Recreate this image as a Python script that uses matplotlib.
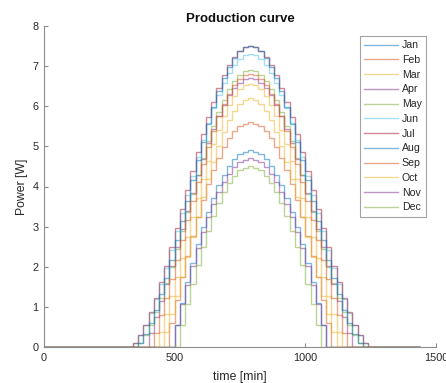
import numpy as np
import matplotlib
matplotlib.use("Agg")
import matplotlib.pyplot as plt

# ---------------- data ----------------
months = ["Jan", "Feb", "Mar", "Apr", "May", "Jun",
          "Jul", "Aug", "Sep", "Oct", "Nov", "Dec"]

# 20-minute bins over one day (bin edges in minutes)
time_edges = np.arange(0, 1441, 20)

jan = [0,0,0,0,0, 0,0,0,0,0, 0,0,0,0,0, 0,0,0,0,0, 0,0,0,0,0,
       0.56,1.10,1.62,2.10,2.56,2.99,3.37,3.72,4.03,4.29,4.51,4.68,4.80,4.87,
       4.90,
       4.87,4.80,4.68,4.51,4.29,4.03,3.72,3.37,2.99,2.56,2.10,1.62,1.10,0.56,
       0,0,0,0,0, 0,0,0,0,0, 0,0,0,0,0, 0,0,0]
feb = [0,0,0,0,0, 0,0,0,0,0, 0,0,0,0,0, 0,0,0,0,0, 0,0,0,0,
       0.60,1.18,1.74,2.27,2.77,3.24,3.67,4.06,4.41,4.72,4.98,5.21,5.38,5.50,5.57,
       5.60,
       5.57,5.50,5.38,5.21,4.98,4.72,4.41,4.06,3.67,3.24,2.77,2.27,1.74,1.18,0.60,
       0,0,0,0,0, 0,0,0,0,0, 0,0,0,0,0, 0,0]
mar = [0,0,0,0,0, 0,0,0,0,0, 0,0,0,0,0, 0,0,0,0,0, 0,0,
       0.37,0.81,1.26,1.74,2.23,2.73,3.23,3.72,4.19,4.63,5.05,5.42,5.75,6.03,6.26,6.42,6.52,
       6.55,
       6.52,6.42,6.26,6.03,5.75,5.42,5.05,4.63,4.19,3.72,3.23,2.73,2.23,1.74,1.26,0.81,0.37,
       0,0,0,0,0, 0,0,0,0,0, 0,0,0,0,0]
apr = [0,0,0,0,0, 0,0,0,0,0, 0,0,0,0,0, 0,0,0,0,0,
       0.34,0.74,1.14,1.58,2.03,2.49,2.95,3.40,3.85,4.28,4.69,5.09,5.44,5.76,6.03,6.27,6.46,6.59,6.67,
       6.70,
       6.67,6.59,6.46,6.27,6.03,5.76,5.44,5.09,4.69,4.28,3.85,3.40,2.95,2.49,2.03,1.58,1.14,0.74,0.34,
       0,0,0,0,0, 0,0,0,0,0, 0,0,0]
may = [0,0,0,0,0, 0,0,0,0,0, 0,0,0,0,0, 0,0,0,
       0.10,0.30,0.55,0.86,1.21,1.59,2.00,2.45,2.90,3.36,3.82,4.28,4.71,5.13,5.51,5.86,6.16,6.42,6.62,6.78,6.87,
       6.90,
       6.87,6.78,6.62,6.42,6.16,5.86,5.51,5.13,4.71,4.28,3.82,3.36,2.90,2.45,2.00,1.59,1.21,0.86,0.55,0.30,0.10,
       0,0,0,0,0, 0,0,0,0,0, 0]
jun = [0,0,0,0,0, 0,0,0,0,0, 0,0,0,0,0, 0,0,
       0.11,0.30,0.55,0.85,1.19,1.57,1.98,2.42,2.88,3.34,3.80,4.27,4.73,5.16,5.58,5.95,6.29,6.58,6.83,7.03,7.18,7.27,
       7.30,
       7.27,7.18,7.03,6.83,6.58,6.29,5.95,5.58,5.16,4.73,4.27,3.80,3.34,2.88,2.42,1.98,1.57,1.19,0.85,0.55,0.30,0.11,
       0,0,0,0,0, 0,0,0,0,0]
jul = [0,0,0,0,0, 0,0,0,0,0, 0,0,0,0,0, 0,0,
       0.11,0.31,0.56,0.87,1.22,1.61,2.03,2.49,2.96,3.44,3.91,4.39,4.86,5.30,5.73,6.11,6.46,6.77,7.02,7.22,7.37,7.47,
       7.50,
       7.47,7.37,7.22,7.02,6.77,6.46,6.11,5.73,5.30,4.86,4.39,3.91,3.44,2.96,2.49,2.03,1.61,1.22,0.87,0.56,0.31,0.11,
       0,0,0,0,0, 0,0,0,0,0]
aug = [0,0,0,0,0, 0,0,0,0,0, 0,0,0,0,0, 0,0,0,
       0.11,0.32,0.60,0.93,1.31,1.73,2.18,2.66,3.15,3.65,4.15,4.65,5.12,5.57,5.99,6.37,6.70,6.98,7.20,7.37,7.47,
       7.50,
       7.47,7.37,7.20,6.98,6.70,6.37,5.99,5.57,5.12,4.65,4.15,3.65,3.15,2.66,2.18,1.73,1.31,0.93,0.60,0.32,0.11,
       0,0,0,0,0, 0,0,0,0,0, 0]
sep = [0,0,0,0,0, 0,0,0,0,0, 0,0,0,0,0, 0,0,0,0,0, 0,
       0.36,0.79,1.22,1.70,2.18,2.67,3.16,3.64,4.11,4.56,4.99,5.39,5.75,6.05,6.31,6.53,6.68,6.77,
       6.80,
       6.77,6.68,6.53,6.31,6.05,5.75,5.39,4.99,4.56,4.11,3.64,3.16,2.67,2.18,1.70,1.22,0.79,0.36,
       0,0,0,0,0, 0,0,0,0,0, 0,0,0,0]
oct_ = [0,0,0,0,0, 0,0,0,0,0, 0,0,0,0,0, 0,0,0,0,0, 0,0,0,
        0.38,0.81,1.27,1.75,2.25,2.75,3.25,3.73,4.19,4.62,5.02,5.36,5.65,5.88,6.06,6.16,
        6.20,
        6.16,6.06,5.88,5.65,5.36,5.02,4.62,4.19,3.73,3.25,2.75,2.25,1.75,1.27,0.81,0.38,
        0,0,0,0,0, 0,0,0,0,0, 0,0,0,0,0, 0]
nov = [0,0,0,0,0, 0,0,0,0,0, 0,0,0,0,0, 0,0,0,0,0, 0,0,0,0,0,
       0.54,1.06,1.55,2.02,2.46,2.87,3.23,3.57,3.86,4.11,4.32,4.49,4.61,4.67,
       4.70,
       4.67,4.61,4.49,4.32,4.11,3.86,3.57,3.23,2.87,2.46,2.02,1.55,1.06,0.54,
       0,0,0,0,0, 0,0,0,0,0, 0,0,0,0,0, 0,0,0]
dec = [0,0,0,0,0, 0,0,0,0,0, 0,0,0,0,0, 0,0,0,0,0, 0,0,0,0,0, 0,
       0.55,1.08,1.58,2.05,2.50,2.90,3.26,3.58,3.86,4.09,4.27,4.40,4.47,
       4.50,
       4.47,4.40,4.27,4.09,3.86,3.58,3.26,2.90,2.50,2.05,1.58,1.08,0.55,
       0,0,0,0,0, 0,0,0,0,0, 0,0,0,0,0, 0,0,0,0]

series = [jan, feb, mar, apr, may, jun, jul, aug, sep, oct_, nov, dec]

x_ticks = [0, 500, 1000, 1500]
y_ticks = [0, 1, 2, 3, 4, 5, 6, 7, 8]

# ---------------- style ----------------
matlab_colors = ["#0072BD", "#D95319", "#EDB120", "#7E2F8E",
                 "#77AC30", "#4DBEEE", "#A2142F"]
plt.rcParams["font.family"] = ["Liberation Sans", "DejaVu Sans"]

W, H = 446, 383
fig = plt.figure(figsize=(W / 100, H / 100), dpi=100)
ax = fig.add_axes([44 / W, (H - 347) / H, 392 / W, 321 / H])

for i, (name, vals) in enumerate(zip(months, series)):
    assert len(vals) == len(time_edges) - 1, (name, len(vals))
    ax.stairs(vals, time_edges, baseline=None,
              color=matlab_colors[i % 7], alpha=0.5, linewidth=1.0,
              label=name)

ax.set_xlim(0, 1500)
ax.set_ylim(0, 8)
ax.set_xticks(x_ticks)
ax.set_yticks(y_ticks)

for s in ["top", "right"]:
    ax.spines[s].set_visible(False)
for s in ["left", "bottom"]:
    ax.spines[s].set_color("#8c8c8c")
    ax.spines[s].set_linewidth(0.8)

ax.tick_params(direction="in", length=3, width=0.8, color="#8c8c8c",
               labelsize=7.8, labelcolor="#262626", pad=4)

ax.set_title("Production curve", fontsize=9.5, fontweight="bold",
             color="#111111", pad=3)
ax.set_xlabel("time [min]", fontsize=8.8, color="#262626", labelpad=6)
ax.set_ylabel("Power [W]", fontsize=8.8, color="#262626", labelpad=3)

leg = ax.legend(loc="upper right",
                bbox_to_anchor=(1 - 10 / 392, 1 - 10 / 321),
                borderaxespad=0, fontsize=7.6, frameon=True, fancybox=False,
                handlelength=3.2, handletextpad=0.4, labelspacing=0.45,
                borderpad=0.4)
leg.get_frame().set_edgecolor("#8c8c8c")
leg.get_frame().set_linewidth(0.8)
for t in leg.get_texts():
    t.set_color("#262626")

fig.savefig("out.png", dpi=100)
